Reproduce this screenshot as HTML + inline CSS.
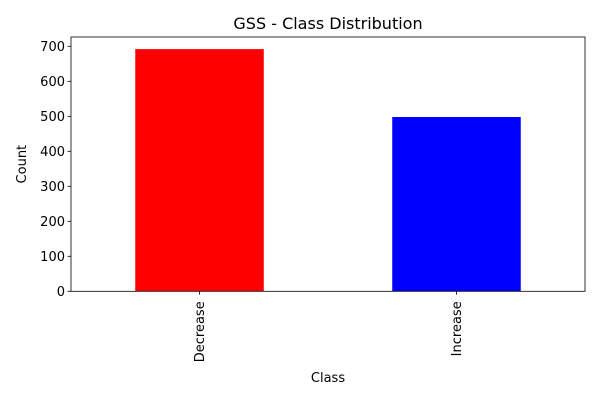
<!DOCTYPE html>
<html><head><meta charset="utf-8"><style>
body{margin:0;background:#fff;font-family:"DejaVu Sans",sans-serif}
</style></head><body>
<svg width="600" height="400" xmlns="http://www.w3.org/2000/svg" font-family="DejaVu Sans, Liberation Sans, sans-serif">
<g id="plot"></g>
</svg>
<script>
const categories=["Decrease","Increase"];
const counts=[692,498];
const colors=["#ff0000","#0000ff"];
const yTicks=[0,100,200,300,400,500,600,700];
const L=71,R=585,T=37,B=291.3;
const yMax=(B-T)/0.35;
const ys=v=>B-v*(B-T)/yMax;
const xs=i=>L+(i+0.5)*(R-L)/categories.length;
const bw=0.5*(R-L)/categories.length;
const ns="http://www.w3.org/2000/svg";
const g=document.getElementById('plot');
function mk(t,a,txt){const e=document.createElementNS(ns,t);for(const k in a)e.setAttribute(k,a[k]);if(txt!==undefined)e.textContent=txt;g.appendChild(e);return e;}
categories.forEach((c,i)=>{
 const r=mk('rect',{x:xs(i)-bw/2,y:ys(counts[i]),width:bw,height:B-ys(counts[i]),fill:colors[i]});
 
 
 const tk=mk('line',{x1:xs(i),x2:xs(i),y1:B,y2:B+3.5,stroke:'#000','stroke-width':0.8});
 
 
 const lb=mk('text',{x:0,y:0,'font-size':13,'text-anchor':'end',transform:`translate(${xs(i)+4.5},${B+10}) rotate(-90)`},c);
 
 
});
yTicks.forEach(v=>{
 const tk=mk('line',{x1:L-3.5,x2:L,y1:ys(v),y2:ys(v),stroke:'#000','stroke-width':0.8});
 
 
 const lb=mk('text',{x:L-6,y:ys(v)+4.5,'font-size':13,'text-anchor':'end'},String(v));
 
 
});
const fr=mk('rect',{x:L,y:T,width:R-L,height:B-T,fill:'none',stroke:'#000','stroke-width':0.8});


const ti=mk('text',{x:(L+R)/2,y:29,'font-size':16,'text-anchor':'middle'},'GSS - Class Distribution');


const xt=mk('text',{x:(L+R)/2,y:382,'font-size':13,'text-anchor':'middle'},'Class');


const yt=mk('text',{x:0,y:0,'font-size':13,'text-anchor':'middle',transform:`translate(26,${(T+B)/2}) rotate(-90)`},'Count');


</script>
</body></html>
